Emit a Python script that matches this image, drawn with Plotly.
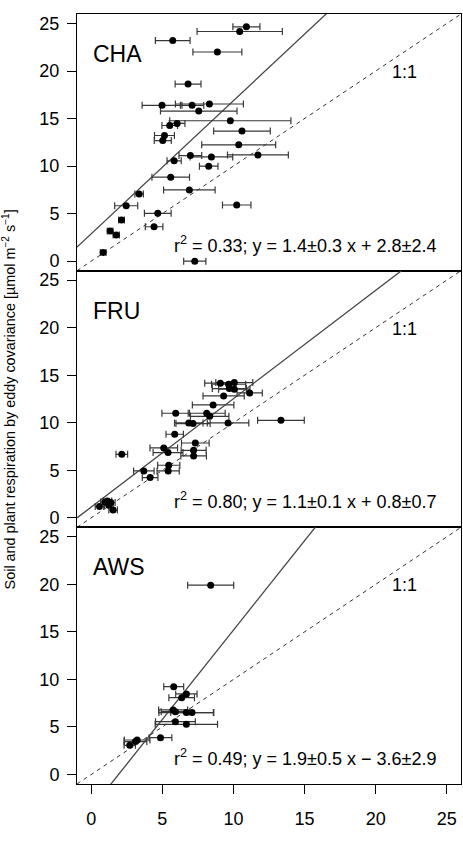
import plotly.graph_objects as go
from plotly.subplots import make_subplots
import numpy as np

# ---------------- data ----------------
sites = ["CHA", "FRU", "AWS"]

cha_x = [10.91, 10.44, 5.73, 8.87, 6.81, 4.98, 7.09, 8.31, 7.56, 9.78, 6.04, 5.52, 10.6, 5.15, 5.03,
         10.37, 11.72, 6.97, 8.45, 5.83, 8.26, 5.59, 6.90, 3.37, 2.46, 10.23, 4.68, 2.13, 4.42, 1.33,
         1.76, 0.84, 7.28]
cha_y = [24.65, 24.16, 23.2, 22.0, 18.63, 16.39, 16.39, 16.53, 15.79, 14.77, 14.49, 14.27, 13.68, 13.22,
         12.69, 12.24, 11.18, 11.11, 10.97, 10.55, 9.99, 8.83, 7.49, 7.07, 5.83, 5.91, 5.03, 4.32, 3.62,
         3.16, 2.74, 0.92, 0.0]
cha_xerr = [0.95, 3.0, 1.22, 1.72, 0.91, 1.40, 0.82, 2.39, 2.69, 4.26, 0.55, 0.55, 1.99, 0.7, 0.6,
            2.6, 2.14, 0.8, 1.5, 0.5, 0.65, 1.32, 1.81, 0.3, 0.81, 1.0, 0.94, 0.2, 0.62, 0.2,
            0.22, 0.2, 0.78]

fru_x = [9.08, 9.66, 10.06, 9.71, 10.06, 11.14, 9.31, 8.57, 5.94, 8.12, 8.33, 13.34, 6.86, 7.16, 9.62,
         5.87, 7.32, 5.10, 5.40, 7.2, 7.2, 2.15, 5.45, 5.41, 3.70, 4.14, 0.58, 0.96, 1.14, 1.38, 1.24, 1.54]
fru_y = [14.16, 14.05, 14.23, 13.6, 13.53, 13.14, 12.82, 11.88, 11.0, 11.0, 10.68, 10.26, 9.98, 9.91, 9.98,
         8.79, 7.87, 7.35, 6.86, 7.1, 6.51, 6.68, 5.53, 4.93, 4.93, 4.23, 1.18, 1.67, 1.77, 1.6, 1.32, 0.82]
fru_xerr = [1.1, 1.2, 1.3, 1.2, 1.1, 0.89, 1.45, 1.46, 0.97, 1.3, 1.35, 1.64, 1.0, 1.2, 1.46,
            0.61, 0.97, 0.97, 1.05, 0.88, 0.9, 0.41, 0.78, 0.78, 0.72, 0.55, 0.3, 0.3, 0.3, 0.3, 0.3, 0.3]

aws_x = [8.40, 5.80, 6.69, 6.36, 5.76, 5.92, 6.69, 7.09, 5.92, 6.69, 4.87, 3.23, 3.11, 2.71]
aws_y = [19.92, 9.24, 8.47, 8.08, 6.79, 6.61, 6.51, 6.51, 5.56, 5.28, 3.87, 3.63, 3.46, 3.07]
aws_xerr = [1.62, 0.7, 0.75, 0.9, 1.02, 1.0, 1.93, 1.5, 1.4, 2.19, 0.8, 0.9, 0.8, 0.4]

slopes = [1.40, 1.14, 1.88]
intercepts = [2.88, 1.13, -3.61]
equations = ["r<sup>2</sup> = 0.33; y = 1.4±0.3 x + 2.8±2.4",
             "r<sup>2</sup> = 0.80; y = 1.1±0.1 x + 0.8±0.7",
             "r<sup>2</sup> = 0.49; y = 1.9±0.5 x \u2212 3.6±2.9"]
ticks = [0, 5, 10, 15, 20, 25]
ylabel = "Soil and plant respiration by eddy covariance [µmol m<sup>\u22122</sup> s<sup>\u22121</sup>]"

panels = [(cha_x, cha_y, cha_xerr), (fru_x, fru_y, fru_xerr), (aws_x, aws_y, aws_xerr)]

FONT = "Liberation Sans, Arial, sans-serif"

fig = make_subplots(rows=3, cols=1, shared_xaxes=True, vertical_spacing=0)

line_x = np.array([-1.0, 26.0])
for i, (px, py, pe) in enumerate(panels):
    r = i + 1
    # 1:1 line
    fig.add_trace(go.Scatter(x=line_x, y=line_x, mode="lines",
                             line=dict(color="#333333", width=1, dash="4px,4px"),
                             showlegend=False, hoverinfo="skip"), row=r, col=1)
    # regression line
    fig.add_trace(go.Scatter(x=line_x, y=slopes[i] * line_x + intercepts[i], mode="lines",
                             line=dict(color="#444444", width=1.3),
                             showlegend=False, hoverinfo="skip"), row=r, col=1)
    # points
    fig.add_trace(go.Scatter(x=px, y=py, mode="markers",
                             marker=dict(color="black", size=7),
                             error_x=dict(type="data", array=pe, visible=True,
                                          color="#383838", thickness=1.2, width=3.5),
                             showlegend=False, cliponaxis=True), row=r, col=1)

    xref = "x" if r == 1 else f"x{r}"
    yref = "y" if r == 1 else f"y{r}"
    fig.add_annotation(x=0, y=21.8, xref=xref, yref=yref, text=sites[i], showarrow=False,
                       xanchor="left", yanchor="middle", font=dict(family=FONT, size=23, color="black"))
    fig.add_annotation(x=22, y=19.9, xref=xref, yref=yref, text="1:1", showarrow=False,
                       xanchor="center", yanchor="middle", font=dict(family=FONT, size=18, color="black"))
    fig.add_annotation(x=15, y=1.8, xref=xref, yref=yref, text=equations[i], showarrow=False,
                       xanchor="center", yanchor="middle", font=dict(family=FONT, size=18, color="black"))

    fig.update_yaxes(range=[-1, 26], tickvals=ticks, ticks="outside", ticklen=9, tickcolor="black",
                     tickwidth=1, showline=True, linecolor="black", linewidth=1, mirror=True,
                     showgrid=False, zeroline=False, ticklabelstandoff=4,
                     tickfont=dict(family=FONT, size=18, color="black"), row=r, col=1)
    fig.update_xaxes(range=[-1, 26], tickvals=ticks, showline=True, linecolor="black", linewidth=1,
                     mirror=True, showgrid=False, zeroline=False, row=r, col=1,
                     ticks="outside" if r == 3 else "", ticklen=9, tickcolor="black",
                     showticklabels=(r == 3), ticklabelstandoff=9,
                     tickfont=dict(family=FONT, size=18, color="black"))

fig.add_annotation(x=-0.176, y=0.5, xref="paper", yref="paper", text=ylabel, textangle=-90,
                   showarrow=False, xanchor="center", yanchor="middle",
                   font=dict(family=FONT, size=14.4, color="black"))

fig.update_layout(width=463, height=841, margin=dict(l=77, r=2, t=14, b=57),
                  paper_bgcolor="white", plot_bgcolor="white", showlegend=False)

fig.write_html("out.html")
